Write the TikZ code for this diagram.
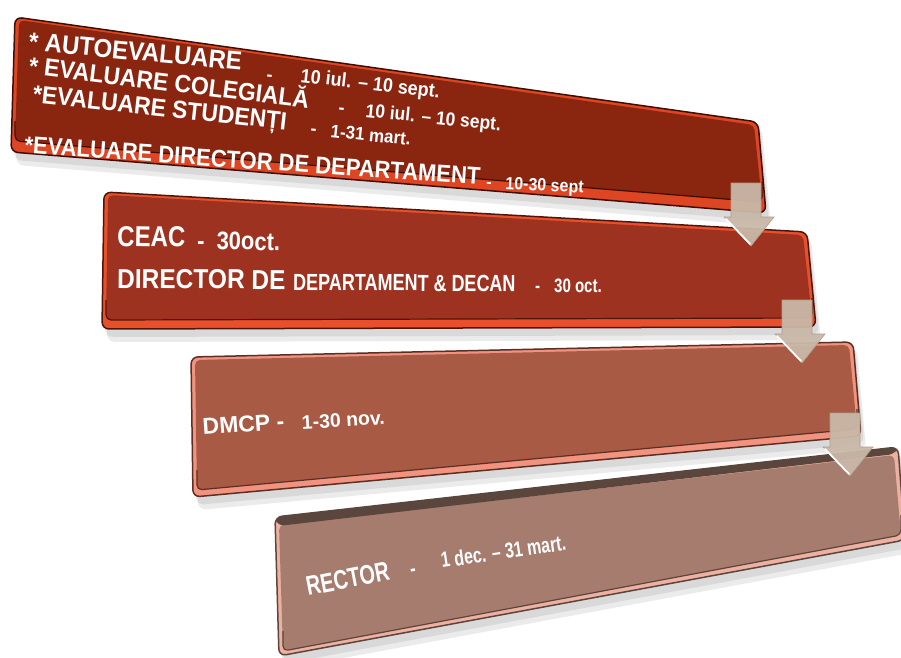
\documentclass[tikz,border=0pt]{standalone}
\usepackage{fontspec}
\setmainfont{Liberation Sans}
\usetikzlibrary{calc}
\definecolor{faceA}{HTML}{8A2510}
\definecolor{rimA}{HTML}{DE4522}
\definecolor{lineA}{HTML}{3E0E05}
\definecolor{faceB}{HTML}{9E3220}
\definecolor{rimB}{HTML}{E8502C}
\definecolor{lineB}{HTML}{4E150A}
\definecolor{faceC}{HTML}{A85A45}
\definecolor{rimC}{HTML}{F29380}
\definecolor{lineC}{HTML}{5A3025}
\definecolor{faceD}{HTML}{A67C6F}
\definecolor{rimD}{HTML}{EEB0A0}
\definecolor{lineD}{HTML}{5B463D}
\definecolor{arrowfill}{HTML}{C9B8A8}
\definecolor{arrowedge}{HTML}{B09C8C}
\newcommand{\mybox}[6]{%
  \fill[black, opacity=.08, rounded corners=8] ([shift={(2,4)}]#1a) -- ([shift={(2,4)}]#1b) -- ([shift={(3,8)}]#1c) -- ([shift={(3,8)}]#1d) -- cycle;
  \fill[black, opacity=.08, rounded corners=8] ([shift={(4,6)}]#1a) -- ([shift={(4,6)}]#1b) -- ([shift={(5,13)}]#1c) -- ([shift={(5,13)}]#1d) -- cycle;
  \filldraw[fill=#3, draw=#4, line width=1.5pt, rounded corners=7] (#1a) -- (#1b) -- (#1c) -- (#1d) -- cycle;
  \fill[#2, rounded corners=5] ([shift={(4,#5)}]#1a) -- ([shift={(-4,#5)}]#1b) -- ([shift={(-4,-#6)}]#1c) -- ([shift={(4,-#6)}]#1d) -- cycle;
  \draw[#4, line width=1.2pt, rounded corners=5] ([shift={(4,-#6-20)}]#1d) -- ([shift={(4,-#6)}]#1d) -- ([shift={(-4,-#6)}]#1c) -- ([shift={(-4,-#6-20)}]#1c);
}
\tikzset{
  txt/.style={text=white, inner sep=0pt, anchor=base west},
  fsz/.style={font=\bfseries\fontsize{#1}{#1}\selectfont},
  downarrow/.pic={
    \filldraw[fill=arrowfill, draw=arrowedge, line width=0.6pt, fill opacity=.95]
      (-15,0) -- (15,0) -- (15,34) -- (28,34) -- (5,63) -- (-22,34) -- (-15,34) -- cycle;
    \draw[white, line width=1.8pt, line cap=round] (-20,36) -- (4,61);
  }
}
\begin{document}
\begin{tikzpicture}[x=1pt, y=-1pt]
\useasboundingbox (0,0) rectangle (901,657);
% corners
\coordinate (Aa) at (15,17);   \coordinate (Ab) at (758,122);
\coordinate (Ac) at (766,213); \coordinate (Ad) at (11,152);
\coordinate (Ba) at (104,192); \coordinate (Bb) at (807,232);
\coordinate (Bc) at (816,327); \coordinate (Bd) at (102,329);
\coordinate (Ca) at (191,357); \coordinate (Cb) at (853,342);
\coordinate (Cc) at (861,436); \coordinate (Cd) at (193,497);
\coordinate (Da) at (275,517); \coordinate (Db) at (898,447);
\coordinate (Dc) at (905,540); \coordinate (Dd) at (279,656);

\mybox{D}{faceD}{rimD}{lineD}{8}{5}
\fill[lineD, rounded corners=6] (Da) -- (Db) -- ([shift={(-3,7)}]Db) -- ([shift={(3,9)}]Da) -- cycle;
\mybox{C}{faceC}{rimC}{lineC}{3}{7}
\mybox{B}{faceB}{rimB}{lineB}{3}{9}
\mybox{A}{faceA}{rimA}{lineA}{3}{11}

% box 1 text
\node[txt, fsz=24, rotate=-5.5, yscale=1.08] (t1a) at (28,50) {* AUTOEVALUARE};
\node[txt, fsz=18, rotate=-6] (t1b) at (266,80) {-};
\node[txt, fsz=18, rotate=-6.5, yscale=1.08] (t1c) at (300,82) {10 iul. – 10 sept.};
\node[txt, fsz=23, rotate=-7, yscale=1.08] (t2a) at (28,74) {* EVALUARE COLEGIALĂ};
\node[txt, fsz=18, rotate=-6] (t2b) at (338,113) {-};
\node[txt, fsz=17.5, rotate=-5.7, yscale=1.08] (t2c) at (365,117) {10 iul. – 10 sept.};
\node[txt, fsz=23, rotate=-6.3, yscale=1.08] (t3a) at (32,102) {*EVALUARE STUDENȚI};
\node[txt, fsz=18, rotate=-6] (t3b) at (310,134) {-};
\node[txt, fsz=17, rotate=-6, yscale=1.08] (t3c) at (330,137) {1-31 mart.};
\node[txt, fsz=22, rotate=-4, yscale=1.1] (t4a) at (24,153) {*EVALUARE DIRECTOR DE DEPARTAMENT};
\node[txt, fsz=16, rotate=-3] (t4b) at (486,187) {-};
\node[txt, fsz=16, rotate=-3, yscale=1.1] (t4c) at (505,189) {10-30 sept};

% box 2 text
\node[txt, fsz=24, rotate=-1, yscale=1.2] (u1a) at (117,246) {CEAC};
\node[txt, fsz=22, rotate=-1, yscale=1.15] (u1b) at (197,249) {-\hspace{12pt}30oct.};
\node[txt, fsz=24.5, rotate=-0.5, yscale=1.12] (u2a) at (117,288) {DIRECTOR DE};
\node[txt, fsz=18, rotate=-0.5, yscale=1.3] (u2b) at (293,290) {DEPARTAMENT \& DECAN};
\node[txt, fsz=15, rotate=-0.5, yscale=1.3] (u2c) at (535,292) {-\hspace{14pt}30 oct.};

% box 3 text
\node[txt, fsz=23, rotate=4] (v1a) at (203,435) {DMCP -};
\node[txt, fsz=19.5, rotate=3.3] (v1b) at (302,429) {1-30 nov.};

% box 4 text
\node[txt, fsz=20, rotate=11, yscale=1.35] (w1a) at (308,596) {RECTOR};
\node[txt, fsz=17, rotate=9, yscale=1.3] (w1b) at (411,577) {-};
\node[txt, fsz=16, rotate=8.3, yscale=1.35] (w1c) at (442,568) {1 dec. – 31 mart.};

% arrows
\coordinate (ar1) at (746,183);
\coordinate (ar2) at (797,300);
\coordinate (ar3) at (845,413);
\pic (p1) at (ar1) {downarrow};
\pic (p2) at (ar2) {downarrow};
\pic (p3) at (ar3) {downarrow};
\end{tikzpicture}
\end{document}
